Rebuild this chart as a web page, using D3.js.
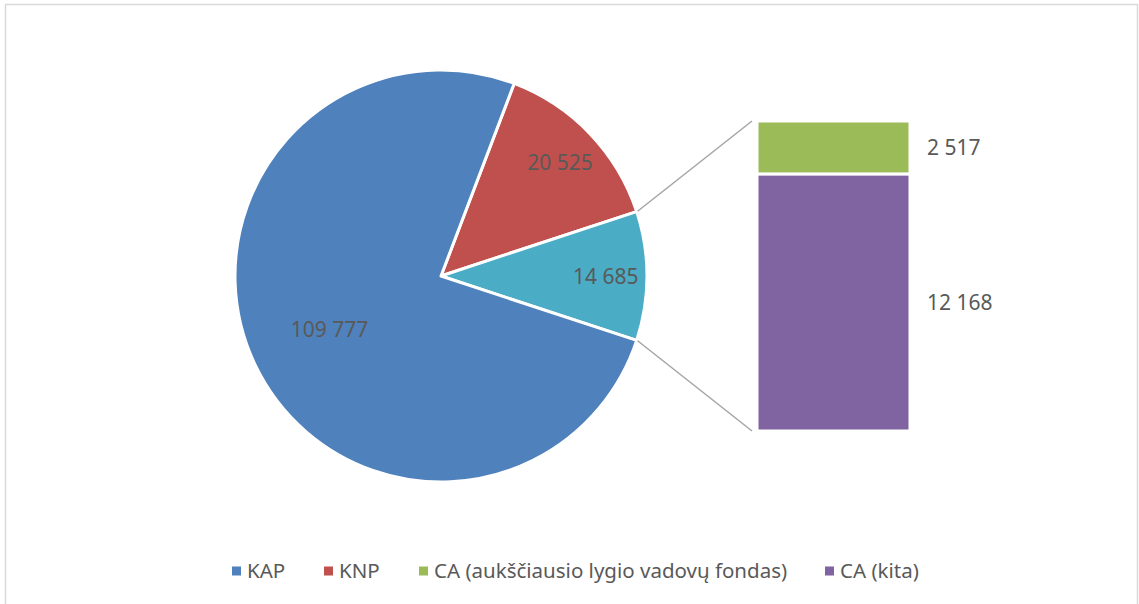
<!DOCTYPE html>
<html>
<head>
<meta charset="utf-8">
<script src="https://cdn.jsdelivr.net/npm/d3@7"></script>
<style>
body { margin: 0; background: #fff; }
svg { display: block; font-family: "Noto Sans", sans-serif; }
</style>
</head>
<body>
<svg id="chart" width="1139" height="604"></svg>
<script>
// main pie: KNP, the split-off part, KAP (clockwise order as drawn)
var pieNames = ["KNP", "CA", "KAP"];
var pieValues = [20525, 14685, 109777];
// secondary stacked bar (breakdown of CA)
var barNames = ["CA (aukščiausio lygio vadovų fondas)", "CA (kita)"];
var barValues = [2517, 12168];
var legendNames = ["KAP", "KNP", "CA (aukščiausio lygio vadovų fondas)", "CA (kita)"];

var colors = {"KAP": "#4f81bd", "KNP": "#c0504d", "CA": "#4bacc6",
	"CA (aukščiausio lygio vadovų fondas)": "#9bbb59", "CA (kita)": "#8064a2"};

var svgGlobal = d3.select("#chart");
var width = +svgGlobal.attr("width"),
	height = +svgGlobal.attr("height");

function fmt(v) {
	return d3.format(",")(v).replace(/,/g, " ");
}

// chart border
svgGlobal.append("rect")
	.attr("x", 5.5).attr("y", 4.5)
	.attr("width", 1132).attr("height", 640)
	.attr("fill", "none")
	.attr("stroke", "#d9d9d9")
	.attr("stroke-width", 1.5);

var cx = 441, cy = 276, r = 206;
var total = d3.sum(pieValues);
var knpFrac = pieValues[0] / total, caFrac = pieValues[1] / total;
var start = Math.PI / 2 - (caFrac / 2 + knpFrac) * 2 * Math.PI;

var pie = d3.pie().sort(null)
	.startAngle(start)
	.endAngle(start + 2 * Math.PI);
var arcs = pie(pieValues);
var arc = d3.arc().innerRadius(0).outerRadius(r);

var g = svgGlobal.append("g")
	.attr("transform", "translate(" + cx + "," + cy + ")");

g.selectAll(".slice")
	.data(arcs)
	.enter().append("path")
	.attr("class", "slice")
	.attr("d", arc)
	.attr("fill", function(d, i) { return colors[pieNames[i]]; })
	.attr("stroke", "#fff")
	.attr("stroke-width", 3)
	.attr("stroke-linejoin", "round");

var labelR = [0.8, 0.8, 0.6];
g.selectAll(".plabel")
	.data(arcs)
	.enter().append("text")
	.attr("class", "plabel")
	.attr("transform", function(d, i) {
		var a = (d.startAngle + d.endAngle) / 2;
		var rr = r * labelR[i];
		return "translate(" + (Math.sin(a) * rr) + "," + (-Math.cos(a) * rr) + ")";
	})
	.attr("text-anchor", "middle")
	.attr("dy", "0.36em")
	.attr("font-size", 21)
	.attr("fill", "#595959")
	.text(function(d, i) { return fmt(pieValues[i]); });

// secondary bar
var bx = 757, bw = 153;
var y = d3.scaleLinear().domain([0, d3.sum(barValues)]).range([431, 121]);
var stackData = [];
var acc = d3.sum(barValues);
for (var i = 0; i < barValues.length; i++) {
	stackData.push({name: barNames[i], value: barValues[i], top: acc, bottom: acc - barValues[i]});
	acc -= barValues[i];
}

svgGlobal.selectAll(".bar")
	.data(stackData)
	.enter().append("rect")
	.attr("class", "bar")
	.attr("x", bx)
	.attr("width", bw)
	.attr("y", function(d) { return y(d.top); })
	.attr("height", function(d) { return y(d.bottom) - y(d.top); })
	.attr("fill", function(d) { return colors[d.name]; })
	.attr("stroke", "#fff")
	.attr("stroke-width", 3);

svgGlobal.selectAll(".blabel")
	.data(stackData)
	.enter().append("text")
	.attr("class", "blabel")
	.attr("x", bx + bw + 17)
	.attr("y", function(d) { return (y(d.top) + y(d.bottom)) / 2; })
	.attr("dy", "0.36em")
	.attr("font-size", 21)
	.attr("fill", "#595959")
	.text(function(d) { return fmt(d.value); });

// connector lines from the split-off slice to the bar
var ca = arcs[1];
var conn = [
	[ca.startAngle, y(d3.sum(barValues))],
	[ca.endAngle, y(0)]
];
svgGlobal.selectAll(".conn")
	.data(conn)
	.enter().append("line")
	.attr("class", "conn")
	.attr("x1", function(d) { return cx + Math.sin(d[0]) * (r + 1); })
	.attr("y1", function(d) { return cy - Math.cos(d[0]) * (r + 1); })
	.attr("x2", bx - 5)
	.attr("y2", function(d) { return d[1]; })
	.attr("stroke", "#a5a5a5")
	.attr("stroke-width", 1.5);

// legend
var legendX = [232, 324, 419, 825];
var lg = svgGlobal.append("g").attr("class", "legend");
var items = lg.selectAll(".item")
	.data(legendNames)
	.enter().append("g")
	.attr("class", "item")
	.attr("transform", function(d, i) { return "translate(" + legendX[i] + ",571)"; });
items.append("rect")
	.attr("x", 0).attr("y", -4.5)
	.attr("width", 9).attr("height", 9)
	.attr("fill", function(d) { return colors[d]; });
items.append("text")
	.attr("x", 15)
	.attr("dy", "0.36em")
	.attr("font-size", 20.5)
	.attr("fill", "#595959")
	.text(function(d) { return d; });
</script>
</body>
</html>
